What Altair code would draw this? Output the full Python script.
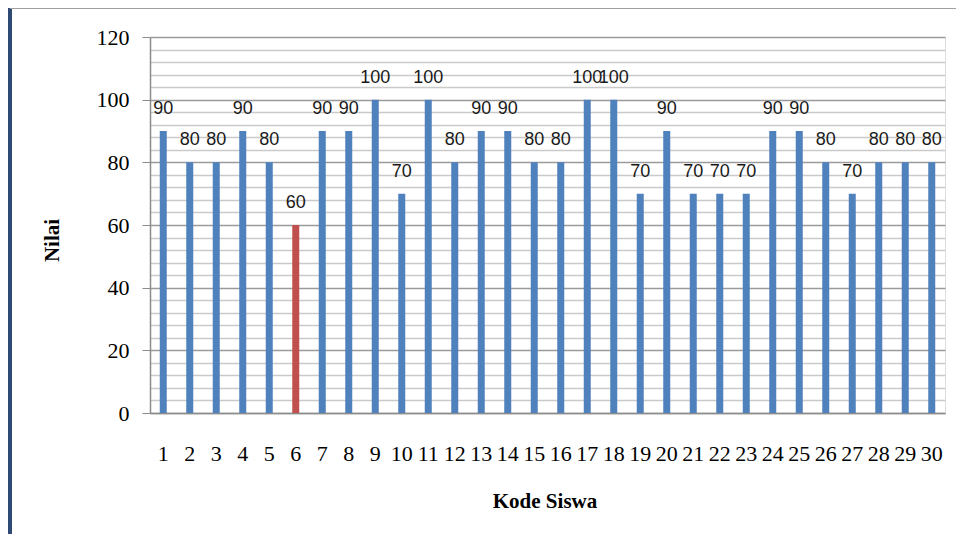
import altair as alt
import pandas as pd

kode = [str(i) for i in range(1, 31)]
nilai = [90, 80, 80, 90, 80, 60, 90, 90, 100, 70, 100, 80, 90, 90, 80, 80,
         100, 100, 70, 90, 70, 70, 70, 90, 90, 80, 70, 80, 80, 80]
warna = ["#4F81BD"] * 30
warna[5] = "#C0504D"

df = pd.DataFrame({"Kode": kode, "Nilai": nilai, "Warna": warna})

W, H = 795, 376

x = alt.X("Kode:N", sort=kode, title="Kode Siswa",
          scale=alt.Scale(paddingInner=0.74, paddingOuter=0.37),
          axis=alt.Axis(labelAngle=0, ticks=False, labelPadding=30, labelOverlap=False,
                        labelFont="Liberation Serif", labelFontSize=22, labelColor="#000",
                        titleFont="Liberation Serif", titleFontSize=21, titleFontWeight="bold",
                        titleColor="#000", titleY=77, titleX=W / 2 - 3,
                        domainColor="#8C8C8C", domainWidth=1.5, grid=False))

y = alt.Y("Nilai:Q", title="Nilai",
          scale=alt.Scale(domain=[0, 120], nice=False),
          axis=alt.Axis(values=list(range(0, 121, 4)), tickCount=100, labelOverlap=False,
                        labelExpr="datum.value % 20 === 0 ? datum.label : ''",
                        labelFont="Liberation Serif", labelFontSize=22, labelColor="#000",
                        labelPadding=13, tickSize=8,
                        tickColor="#8C8C8C",
                        tickOpacity={"condition": {"test": "datum.value % 20 === 0", "value": 1}, "value": 0},
                        gridColor={"condition": {"test": "datum.value % 20 === 0", "value": "#9A9A9A"}, "value": "#CACACA"},
                        gridWidth=1.3,
                        domainColor="#8C8C8C", domainWidth=1.5,
                        titleFont="Liberation Serif", titleFontSize=21, titleFontWeight="bold",
                        titleColor="#000", titleX=-88, titleY=H / 2 + 15))

base = alt.Chart(df)
bars = base.mark_bar(size=7).encode(x=x, y=y, color=alt.Color("Warna:N", scale=None))
labels = base.mark_text(baseline="bottom", dy=-13, font="Liberation Sans",
                        fontSize=18, color="#1a1a1a").encode(
    x=alt.X("Kode:N", sort=kode), y="Nilai:Q", text="Nilai:Q")

border_left = alt.Chart(df).mark_rule(color="#2E4A75", strokeWidth=3).encode(
    x=alt.value(-140), y=alt.value(-29), y2=alt.value(505))
border_top = alt.Chart(df).mark_rule(color="#A0A0A0", strokeWidth=1.5).encode(
    x=alt.value(-140), x2=alt.value(810), y=alt.value(-29))

chart = alt.layer(bars, labels, border_left, border_top).properties(
    width=W, height=H,
    autosize=alt.AutoSizeParams(type="none"),
    padding={"left": 142, "top": 29, "right": 11, "bottom": 121},
).configure_view(stroke=None).configure(background="white")

chart.save("out.html", embed_options={"renderer": "svg", "actions": False})
